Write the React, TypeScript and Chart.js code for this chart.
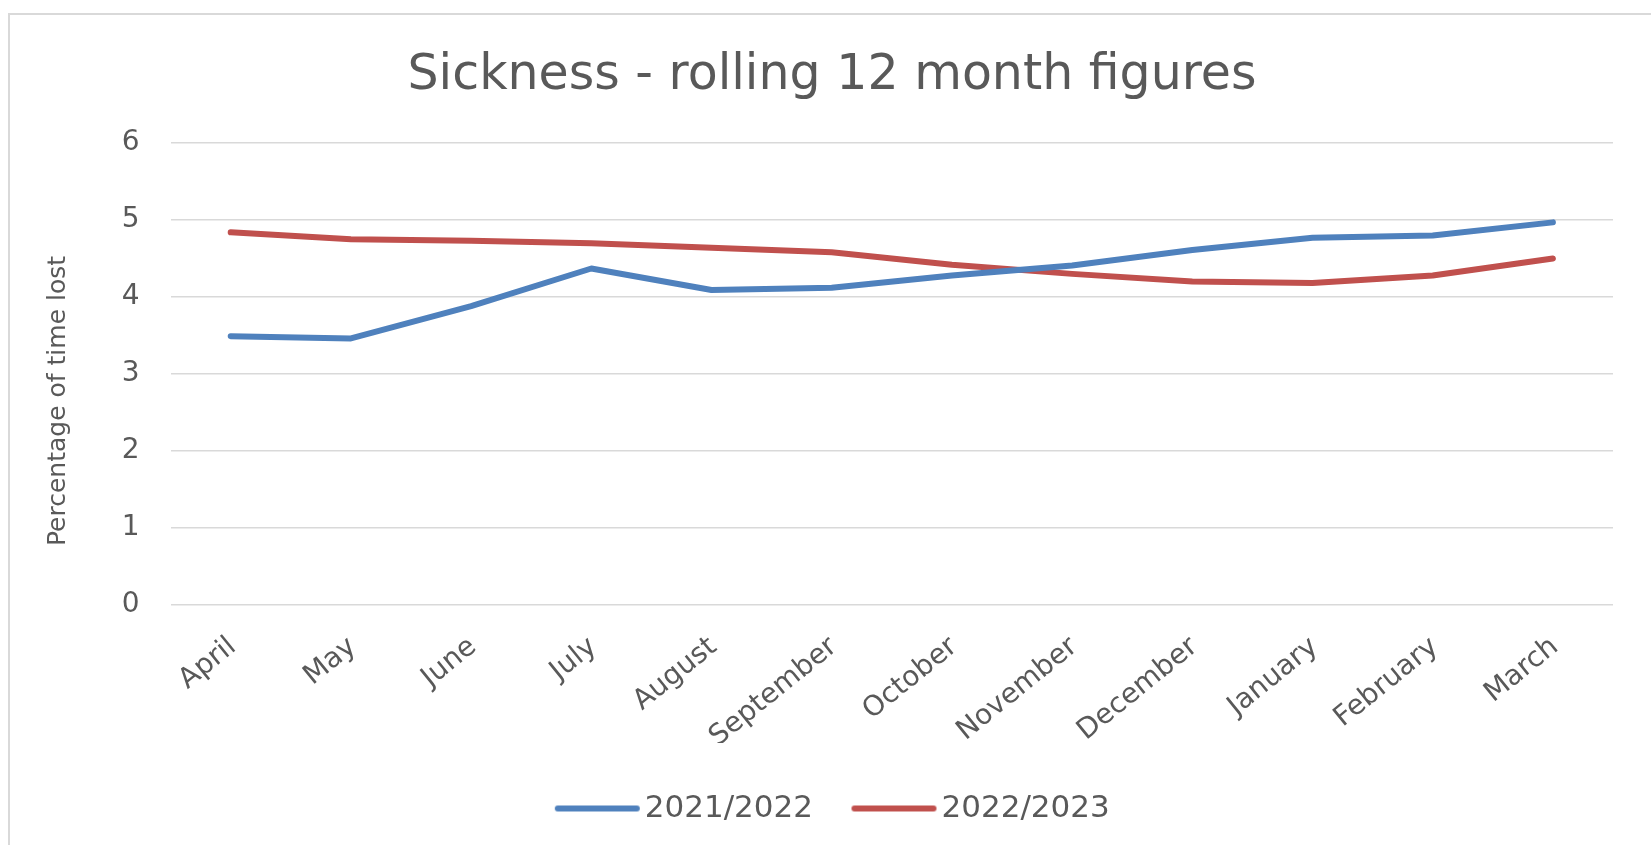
import React, { useEffect, useRef } from "react";
import { Chart, registerables } from "chart.js";

Chart.register(...registerables);

// Months of the financial year (April to March)
const MONTHS = [
  "April",
  "May",
  "June",
  "July",
  "August",
  "September",
  "October",
  "November",
  "December",
  "January",
  "February",
  "March",
];

// Rolling 12 month sickness, percentage of time lost
const SICKNESS_2021_22 = [3.49, 3.46, 3.88, 4.37, 4.09, 4.12, 4.28, 4.41, 4.61, 4.77, 4.8, 4.97];
const SICKNESS_2022_23 = [4.84, 4.75, 4.73, 4.7, 4.64, 4.58, 4.42, 4.3, 4.2, 4.18, 4.28, 4.5];

const SERIES_LABELS = ["2021/2022", "2022/2023"];
const SERIES_COLORS = ["#4F81BD", "#C0504D"];

const Y_MIN = 0;
const Y_MAX = 6;
const Y_STEP = 1;

const TITLE = "Sickness - rolling 12 month figures";
const Y_TITLE = "Percentage of time lost";

const W = 1700;
const H = 845;
const FONT = "'DejaVu Sans', sans-serif";
const TEXT = "#595959";
const GRID = "#d9d9d9";
const LINE_WIDTH = 6;

// Legend swatch: a thick rounded line, slightly wider than the legend box
function makeSwatch(color: string): HTMLCanvasElement {
  const c = document.createElement("canvas");
  c.width = 94;
  c.height = 10;
  const g = c.getContext("2d")!;
  g.strokeStyle = color;
  g.lineWidth = LINE_WIDTH;
  g.lineCap = "round";
  g.beginPath();
  g.moveTo(7, 5);
  g.lineTo(86, 5);
  g.stroke();
  return c;
}

// White background plus the light outline of the chart frame
const framePlugin = {
  id: "frame",
  beforeDraw(chart: any) {
    const { ctx } = chart;
    ctx.save();
    ctx.fillStyle = "#ffffff";
    ctx.fillRect(0, 0, chart.width, chart.height);
    ctx.strokeStyle = GRID;
    ctx.lineWidth = 2;
    ctx.beginPath();
    ctx.moveTo(9, chart.height);
    ctx.lineTo(9, 14);
    ctx.lineTo(chart.width, 14);
    ctx.stroke();
    ctx.restore();
  },
};

// Nudge the legend row a few pixels to the right
const legendShiftPlugin = {
  id: "legendShift",
  afterLayout(chart: any) {
    const lg = chart.legend;
    if (lg) {
      lg.left += 6;
      lg.right += 6;
    }
  },
};

// Vertical axis title, set a little below the middle of the plot
const yTitlePlugin = {
  id: "yTitle",
  afterDraw(chart: any) {
    const { ctx } = chart;
    ctx.save();
    ctx.translate(58, 401);
    ctx.rotate(-Math.PI / 2);
    ctx.fillStyle = TEXT;
    ctx.font = `25px ${FONT}`;
    ctx.textAlign = "center";
    ctx.textBaseline = "middle";
    ctx.fillText(Y_TITLE, 0, 0);
    ctx.restore();
  },
};

export default function App() {
  const canvasRef = useRef<HTMLCanvasElement | null>(null);

  useEffect(() => {
    const canvas = canvasRef.current;
    if (!canvas) return;
    const chart = new Chart(canvas, {
      type: "line",
      data: {
        labels: MONTHS,
        datasets: [SICKNESS_2021_22, SICKNESS_2022_23].map((values, i) => ({
          label: SERIES_LABELS[i],
          data: values,
          borderColor: SERIES_COLORS[i],
          backgroundColor: SERIES_COLORS[i],
          borderWidth: LINE_WIDTH,
          borderCapStyle: "round",
          borderJoinStyle: "round",
          pointRadius: 0,
          pointHoverRadius: 0,
          pointStyle: makeSwatch(SERIES_COLORS[i]),
          tension: 0,
          fill: false,
          yAxisID: "y",
        })),
      },
      options: {
        responsive: false,
        animation: false,
        events: [],
        layout: { padding: { left: 0, right: 36, top: 0, bottom: 11 } },
        plugins: {
          title: {
            display: true,
            text: TITLE,
            color: TEXT,
            font: { family: FONT, size: 49, weight: "normal" },
            padding: { top: 47, bottom: 37.4 },
          },
          legend: {
            display: true,
            position: "bottom",
            labels: {
              color: TEXT,
              font: { family: FONT, size: 31 },
              usePointStyle: true,
              pointStyleWidth: 63,
              padding: 50,
            },
          },
          tooltip: { enabled: false },
        },
        scales: {
          x: {
            type: "category",
            offset: true,
            grid: { display: false, drawTicks: false },
            border: { display: false },
            ticks: {
              color: TEXT,
              font: { family: FONT, size: 28 },
              minRotation: 39,
              maxRotation: 39,
              autoSkip: false,
              padding: 26,
              labelOffset: 2,
            },
            afterFit(scale: any) {
              scale.height = 138.6;
            },
          },
          y: {
            type: "linear",
            position: "left",
            min: Y_MIN,
            max: Y_MAX,
            grid: { color: GRID, lineWidth: 1.5, drawTicks: false },
            border: { display: false },
            ticks: {
              stepSize: Y_STEP,
              color: TEXT,
              font: { family: FONT, size: 28 },
              padding: 31,
            },
            afterFit(scale: any) {
              scale.width = 170.6;
            },
          },
          yRight: {
            type: "linear",
            position: "right",
            display: true,
            grid: { display: false, drawTicks: false },
            border: { display: false },
            ticks: { display: false },
            afterFit(scale: any) {
              scale.width = 51;
            },
          },
        },
      },
      plugins: [framePlugin, legendShiftPlugin, yTitlePlugin],
    } as any);
    return () => chart.destroy();
  }, []);

  return (
    <div
      style={{
        position: "fixed",
        left: 0,
        top: 0,
        width: 1651,
        height: 845,
        overflow: "hidden",
        background: "#ffffff",
      }}
    >
      <canvas
        ref={canvasRef}
        width={W}
        height={H}
        style={{ display: "block", width: W, height: H }}
      />
    </div>
  );
}
